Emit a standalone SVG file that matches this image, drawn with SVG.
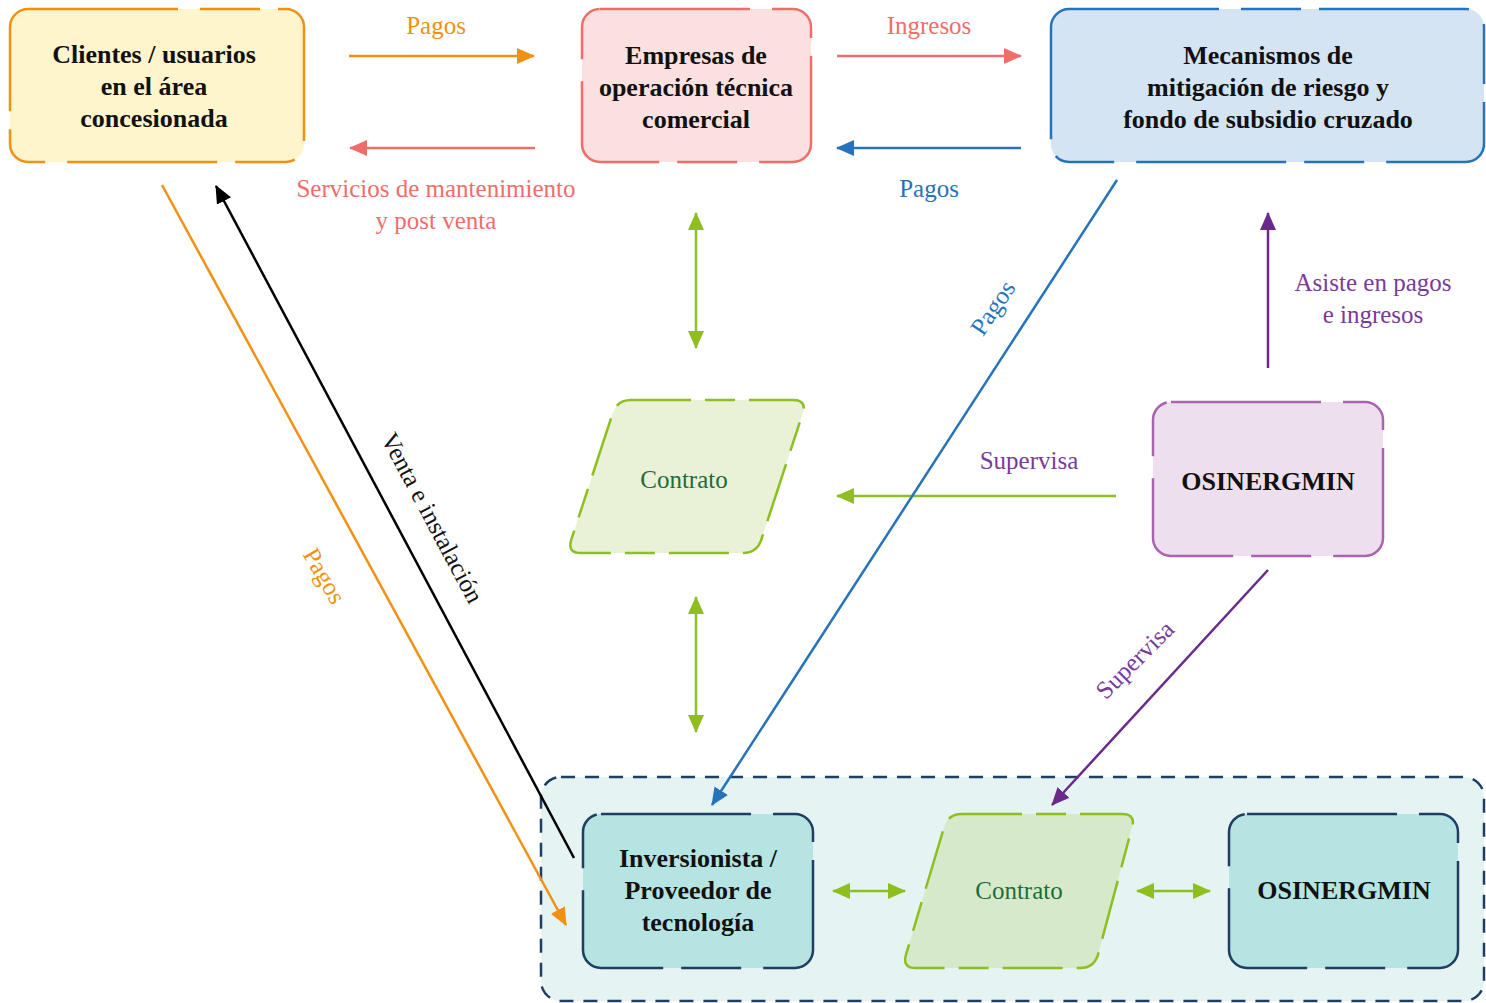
<svg xmlns="http://www.w3.org/2000/svg" width="1486" height="1003" viewBox="0 0 1486 1003">
<style>
.node text{font-family:"Liberation Serif","Times New Roman",serif;font-weight:bold;font-size:26px;fill:#111;text-anchor:middle}
.ct{font-family:"Liberation Serif","Times New Roman",serif;font-size:25px;fill:#1A6E3C;text-anchor:middle}
.lbl{font-family:"Liberation Serif","Times New Roman",serif;font-size:25px;text-anchor:middle}
.box{stroke-width:2.5;stroke-dasharray:150 22 60 18}
.par{stroke:#8DBF1F;stroke-width:2.5;stroke-dasharray:60 14 30 14}
.cn line{stroke-width:2.5;fill:none}
</style>
<defs>
<marker id="mO" viewBox="0 0 18 16" refX="17" refY="8" markerWidth="18" markerHeight="16" markerUnits="userSpaceOnUse" orient="auto"><path d="M0,0L18,8L0,16z" fill="#F29111"/></marker>
<marker id="mS" viewBox="0 0 18 16" refX="17" refY="8" markerWidth="18" markerHeight="16" markerUnits="userSpaceOnUse" orient="auto"><path d="M0,0L18,8L0,16z" fill="#EE6E6A"/></marker>
<marker id="mB" viewBox="0 0 18 16" refX="17" refY="8" markerWidth="18" markerHeight="16" markerUnits="userSpaceOnUse" orient="auto"><path d="M0,0L18,8L0,16z" fill="#2673BC"/></marker>
<marker id="mG" viewBox="0 0 18 16" refX="17" refY="8" markerWidth="18" markerHeight="16" markerUnits="userSpaceOnUse" orient="auto-start-reverse"><path d="M0,0L18,8L0,16z" fill="#8DBF1F"/></marker>
<marker id="mP" viewBox="0 0 18 16" refX="17" refY="8" markerWidth="18" markerHeight="16" markerUnits="userSpaceOnUse" orient="auto"><path d="M0,0L18,8L0,16z" fill="#6A2A8C"/></marker>
<marker id="mK" viewBox="0 0 18 16" refX="17" refY="8" markerWidth="18" markerHeight="16" markerUnits="userSpaceOnUse" orient="auto"><path d="M0,0L18,8L0,16z" fill="#000"/></marker>
</defs>
<rect width="1486" height="1003" fill="#fff"/>

<g id="container">
<rect x="541" y="777" width="943" height="224" rx="20" fill="#E5F3F3" stroke="#1E3F64" stroke-width="2.5" stroke-dasharray="14 10"/>
</g>

<g id="clientes" class="node">
<rect class="box" x="10" y="9" width="294" height="153" rx="18" fill="#FFF5CC" stroke="#F29111"/>
<text x="154" y="63">Clientes / usuarios</text>
<text x="154" y="95">en el área</text>
<text x="154" y="127">concesionada</text>
</g>

<g id="empresas" class="node">
<rect class="box" x="582" y="9" width="229" height="153" rx="18" fill="#FBE0E0" stroke="#EE6E6A"/>
<text x="696" y="64">Empresas de</text>
<text x="696" y="96">operación técnica</text>
<text x="696" y="128">comercial</text>
</g>

<g id="mecanismos" class="node">
<rect class="box" x="1051" y="9" width="433" height="153" rx="18" fill="#D4E4F2" stroke="#2673BC"/>
<text x="1268" y="64">Mecanismos de</text>
<text x="1268" y="96">mitigación de riesgo y</text>
<text x="1268" y="128">fondo de subsidio cruzado</text>
</g>

<g id="contrato1">
<path class="par" d="M631,400L793,400Q807,400 802.7,413.3L761.3,539.7Q757,553 743,553L581,553Q567,553 571.3,539.7L612.7,413.3Q617,400 631,400Z" fill="#E9F1D6"/>
<text class="ct" x="684" y="488">Contrato</text>
</g>

<g id="osinergmin1" class="node">
<rect class="box" x="1153" y="402" width="230" height="154" rx="18" fill="#EEDFEE" stroke="#AA63AF"/>
<text x="1268" y="490">OSINERGMIN</text>
</g>

<g id="inversionista" class="node">
<rect class="box" x="583" y="814" width="230" height="154" rx="18" fill="#B6E4E2" stroke="#1E3F64"/>
<text x="698" y="867">Inversionista /</text>
<text x="698" y="899">Proveedor de</text>
<text x="698" y="931">tecnología</text>
</g>

<g id="contrato2">
<path class="par" d="M962,814L1122,814Q1136,814 1132,827.4L1098,954.6Q1094,968 1080,968L916,968Q902,968 906,954.6L944,827.4Q948,814 962,814Z" fill="#D6EACB"/>
<text class="ct" x="1019" y="899">Contrato</text>
</g>

<g id="osinergmin2" class="node">
<rect class="box" x="1229" y="814" width="229" height="154" rx="18" fill="#B6E4E2" stroke="#1E3F64"/>
<text x="1344" y="899">OSINERGMIN</text>
</g>

<g id="connectors" class="cn">
<line x1="349" y1="56" x2="534" y2="56" stroke="#F29111" marker-end="url(#mO)"/>
<text class="lbl" x="436" y="34" fill="#F29111">Pagos</text>
<line x1="535" y1="148" x2="350" y2="148" stroke="#EE6E6A" marker-end="url(#mS)"/>
<text class="lbl" x="436" y="197" fill="#EE6E6A">Servicios de mantenimiento</text>
<text class="lbl" x="436" y="229" fill="#EE6E6A">y post venta</text>
<line x1="837" y1="56" x2="1021" y2="56" stroke="#EE6E6A" marker-end="url(#mS)"/>
<text class="lbl" x="929" y="34" fill="#EE6E6A">Ingresos</text>
<line x1="1021" y1="148" x2="837" y2="148" stroke="#2673BC" marker-end="url(#mB)"/>
<text class="lbl" x="929" y="197" fill="#2673BC">Pagos</text>
<line x1="696" y1="213" x2="696" y2="348" stroke="#8DBF1F" marker-start="url(#mG)" marker-end="url(#mG)"/>
<line x1="696" y1="597" x2="696" y2="732" stroke="#8DBF1F" marker-start="url(#mG)" marker-end="url(#mG)"/>
<line x1="1268" y1="368" x2="1268" y2="213" stroke="#6A2A8C" marker-end="url(#mP)"/>
<text class="lbl" x="1373" y="291" fill="#7A3A9A">Asiste en pagos</text>
<text class="lbl" x="1373" y="323" fill="#7A3A9A">e ingresos</text>
<line x1="1116" y1="496" x2="837" y2="496" stroke="#8DBF1F" marker-end="url(#mG)"/>
<text class="lbl" x="1029" y="469" fill="#7A3A9A">Supervisa</text>
<line x1="1117" y1="180" x2="712" y2="805" stroke="#2673BC" marker-end="url(#mB)"/>
<text class="lbl" transform="translate(993,308) rotate(-56)" x="0" y="8" fill="#2673BC">Pagos</text>
<line x1="1268" y1="570" x2="1052" y2="805" stroke="#6A2A8C" marker-end="url(#mP)"/>
<text class="lbl" transform="translate(1135,660) rotate(-45)" x="0" y="8" fill="#7A3A9A">Supervisa</text>
<line x1="162" y1="185" x2="566" y2="925" stroke="#F29111" marker-end="url(#mO)"/>
<text class="lbl" transform="translate(324,576) rotate(60)" x="0" y="8" fill="#F29111">Pagos</text>
<line x1="574" y1="858" x2="216" y2="186" stroke="#000" marker-end="url(#mK)"/>
<text class="lbl" transform="translate(432,518) rotate(62)" x="0" y="8" fill="#111">Venta e instalación</text>
<line x1="833" y1="891" x2="905" y2="891" stroke="#8DBF1F" marker-start="url(#mG)" marker-end="url(#mG)"/>
<line x1="1137" y1="891" x2="1210" y2="891" stroke="#8DBF1F" marker-start="url(#mG)" marker-end="url(#mG)"/>
</g>
</svg>
